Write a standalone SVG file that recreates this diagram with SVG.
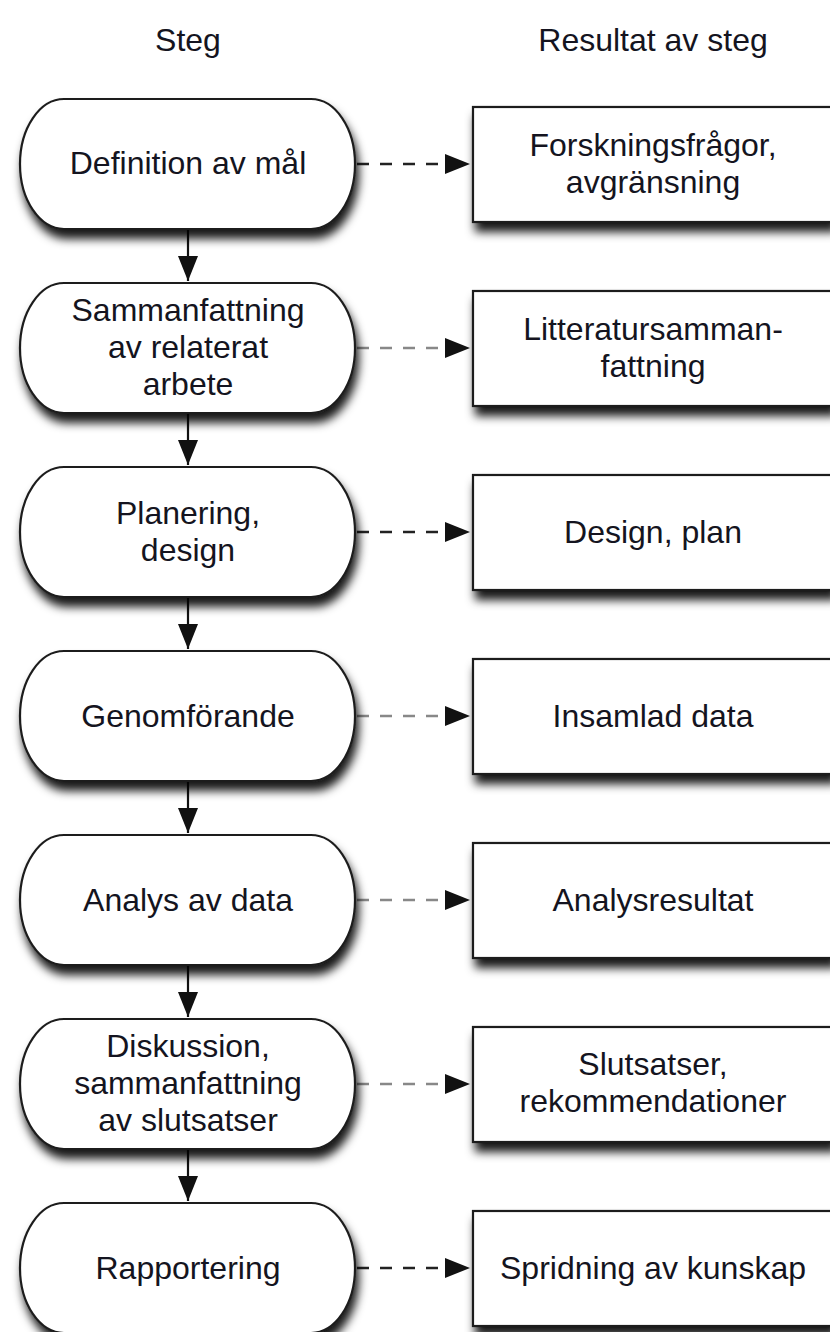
<svg xmlns="http://www.w3.org/2000/svg" width="830" height="1332" viewBox="0 0 830 1332">
<style>
text{font-family:"Liberation Sans",Arial,sans-serif;font-size:32px;fill:#141420;text-anchor:middle}
.pill,.box{fill:#fff;stroke:#1e1e1e;stroke-width:2.2;filter:url(#sh)}
.down{stroke:#111;stroke-width:2.2;fill:none;marker-end:url(#ah)}
.dash{stroke-width:2.4;fill:none;stroke-dasharray:12 11;marker-end:url(#ah)}
.dk{stroke:#222}
.gr{stroke:#888}
</style>
<defs>
<filter id="sh" x="-10%" y="-20%" width="130%" height="160%">
<feDropShadow dx="3" dy="9" stdDeviation="5" flood-color="#000" flood-opacity="0.9"/>
</filter>
<marker id="ah" markerUnits="userSpaceOnUse" markerWidth="28" markerHeight="22" refX="25" refY="10" orient="auto">
<path d="M0,0 L25,10 L0,20 z" fill="#111"/>
</marker>
</defs>
<g id="headers">
<text x="188" y="51">Steg</text>
<text x="653" y="51">Resultat av steg</text>
</g>
<g id="connectors">
<line class="down" x1="188" y1="229" x2="188" y2="281"/>
<line class="down" x1="188" y1="413" x2="188" y2="465"/>
<line class="down" x1="188" y1="597" x2="188" y2="649"/>
<line class="down" x1="188" y1="781" x2="188" y2="833"/>
<line class="down" x1="188" y1="965" x2="188" y2="1017"/>
<line class="down" x1="188" y1="1149" x2="188" y2="1201"/>
<line class="dash dk" x1="357" y1="164" x2="470" y2="164"/>
<line class="dash gr" x1="357" y1="348" x2="470" y2="348"/>
<line class="dash dk" x1="357" y1="532" x2="470" y2="532"/>
<line class="dash gr" x1="357" y1="716" x2="470" y2="716"/>
<line class="dash gr" x1="357" y1="900" x2="470" y2="900"/>
<line class="dash gr" x1="357" y1="1084" x2="470" y2="1084"/>
<line class="dash dk" x1="357" y1="1268" x2="470" y2="1268"/>
</g>
<g id="step1"><rect class="pill" x="20" y="99" width="335" height="130" rx="44" ry="65"/><text x="188" y="174">Definition av mål</text></g>
<g id="result1"><rect class="box" x="473" y="107" width="360" height="115"/><text x="653" y="156">Forskningsfrågor,</text><text x="653" y="193">avgränsning</text></g>
<g id="step2"><rect class="pill" x="20" y="283" width="335" height="130" rx="44" ry="65"/><text x="188" y="321">Sammanfattning</text><text x="188" y="358">av relaterat</text><text x="188" y="395">arbete</text></g>
<g id="result2"><rect class="box" x="473" y="291" width="360" height="115"/><text x="653" y="340">Litteratursamman-</text><text x="653" y="377">fattning</text></g>
<g id="step3"><rect class="pill" x="20" y="467" width="335" height="130" rx="44" ry="65"/><text x="188" y="524">Planering,</text><text x="188" y="561">design</text></g>
<g id="result3"><rect class="box" x="473" y="475" width="360" height="115"/><text x="653" y="543">Design, plan</text></g>
<g id="step4"><rect class="pill" x="20" y="651" width="335" height="130" rx="44" ry="65"/><text x="188" y="727">Genomförande</text></g>
<g id="result4"><rect class="box" x="473" y="659" width="360" height="115"/><text x="653" y="727">Insamlad data</text></g>
<g id="step5"><rect class="pill" x="20" y="835" width="335" height="130" rx="44" ry="65"/><text x="188" y="911">Analys av data</text></g>
<g id="result5"><rect class="box" x="473" y="843" width="360" height="115"/><text x="653" y="911">Analysresultat</text></g>
<g id="step6"><rect class="pill" x="20" y="1019" width="335" height="130" rx="44" ry="65"/><text x="188" y="1057">Diskussion,</text><text x="188" y="1094">sammanfattning</text><text x="188" y="1131">av slutsatser</text></g>
<g id="result6"><rect class="box" x="473" y="1027" width="360" height="115"/><text x="653" y="1075">Slutsatser,</text><text x="653" y="1112">rekommendationer</text></g>
<g id="step7"><rect class="pill" x="20" y="1203" width="335" height="130" rx="44" ry="65"/><text x="188" y="1279">Rapportering</text></g>
<g id="result7"><rect class="box" x="473" y="1211" width="360" height="115"/><text x="653" y="1279">Spridning av kunskap</text></g>
</svg>
